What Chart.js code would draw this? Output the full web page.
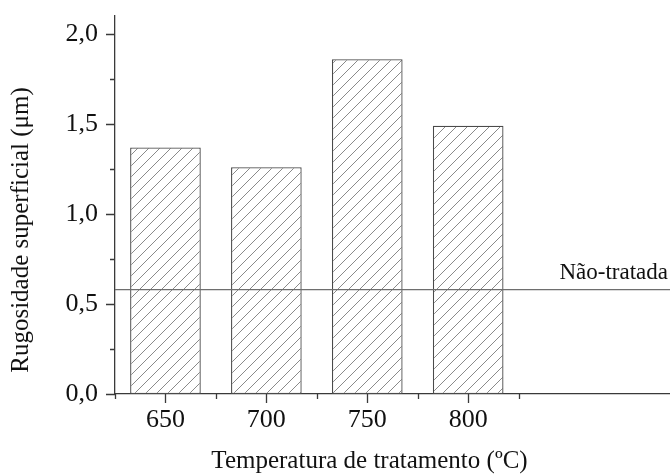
<!DOCTYPE html>
<html>
<head>
<meta charset="utf-8">
<script src="https://cdn.jsdelivr.net/npm/chart.js@4"></script>
<style>
  html, body { margin: 0; padding: 0; background: #fff; }
  #wrap { width: 670px; height: 475px; position: relative; }
</style>
</head>
<body>
<div id="wrap"><canvas id="grafico"></canvas></div>
<script>
// dados
const temperaturas = [650, 700, 750, 800];
const rugosidade = [1.37, 1.26, 1.86, 1.49];
const naoTratada = 0.58;
const yTicks = [0, 0.5, 1.0, 1.5, 2.0];
const yMinorTicks = [0.25, 0.75, 1.25, 1.75];
const xMinorTicks = [625, 675, 725, 775, 825];

const FONTE = '"Liberation Serif", "DejaVu Serif", serif';
const EIXO = '#3a3a3a';
const tituloX = 'Temperatura de tratamento (ºC)';
const tituloY = 'Rugosidade superficial (μm)';

// hachura diagonal das barras
function hachura() {
  const s = 11;
  const c = document.createElement('canvas');
  c.width = s; c.height = s;
  const g = c.getContext('2d');
  g.fillStyle = '#fff';
  g.fillRect(0, 0, s, s);
  g.strokeStyle = '#8a8a8a';
  g.lineWidth = 1;
  g.beginPath();
  g.moveTo(0, s); g.lineTo(s, 0);
  g.moveTo(-s / 2, s / 2); g.lineTo(s / 2, -s / 2);
  g.moveTo(s / 2, s * 1.5); g.lineTo(s * 1.5, s / 2);
  g.stroke();
  return g.createPattern(c, 'repeat');
}

// linha "Não-tratada", marcas menores dos eixos e titulos
const extras = {
  id: 'extras',
  afterDatasetsDraw(chart) {
    const { ctx, chartArea, scales } = chart;
    const x = scales.x, y = scales.y;
    ctx.save();
    const yy = y.getPixelForValue(naoTratada);
    ctx.strokeStyle = '#6e6e6e';
    ctx.lineWidth = 1.3;
    ctx.beginPath();
    ctx.moveTo(chartArea.left, yy);
    ctx.lineTo(chartArea.right, yy);
    ctx.stroke();
    ctx.fillStyle = '#111';
    ctx.font = '23px ' + FONTE;
    ctx.textAlign = 'right';
    ctx.textBaseline = 'alphabetic';
    ctx.fillText('Não-tratada', chartArea.right - 2, yy - 11);

    ctx.strokeStyle = EIXO;
    ctx.lineWidth = 1.3;
    ctx.beginPath();
    yTicks.forEach(v => {
      const p = Math.round(y.getPixelForValue(v)) + 0.5;
      ctx.moveTo(chartArea.left - 9, p); ctx.lineTo(chartArea.left, p);
    });
    yMinorTicks.forEach(v => {
      const p = Math.round(y.getPixelForValue(v)) + 0.5;
      ctx.moveTo(chartArea.left - 5, p); ctx.lineTo(chartArea.left, p);
    });
    temperaturas.forEach(v => {
      const p = Math.round(x.getPixelForValue(v)) + 0.5;
      ctx.moveTo(p, chartArea.bottom); ctx.lineTo(p, chartArea.bottom + 9);
    });
    xMinorTicks.forEach(v => {
      const p = Math.round(x.getPixelForValue(v)) + 0.5;
      ctx.moveTo(p, chartArea.bottom); ctx.lineTo(p, chartArea.bottom + 5);
    });
    ctx.stroke();

    // titulos (deslocados do centro, como no original)
    ctx.font = '25px ' + FONTE;
    ctx.textAlign = 'center';
    ctx.textBaseline = 'middle';
    ctx.fillText(tituloX, (chartArea.left + chartArea.right) / 2 - 23, 461);
    ctx.translate(21, (chartArea.top + chartArea.bottom) / 2 + 25);
    ctx.rotate(-Math.PI / 2);
    ctx.fillText(tituloY, 0, 0);
    ctx.restore();
  }
};

new Chart(document.getElementById('grafico'), {
  type: 'bar',
  data: {
    datasets: [{
      data: temperaturas.map((t, i) => ({ x: t, y: rugosidade[i] })),
      backgroundColor: hachura(),
      borderColor: '#4a4a4a',
      borderWidth: 1.3,
      borderSkipped: false,
      barPercentage: 0.70,
      categoryPercentage: 1.0
    }]
  },
  options: {
    responsive: true,
    maintainAspectRatio: false,
    animation: false,
    layout: { padding: { top: 16, right: 0, bottom: 0, left: 0 } },
    plugins: { legend: { display: false }, tooltip: { enabled: false } },
    scales: {
      x: {
        type: 'linear',
        offset: false,
        min: 625,
        max: 900,
        afterBuildTicks: s => { s.ticks = temperaturas.map(v => ({ value: v })); },
        afterFit: s => { s.height = 81; s.paddingLeft = 0; s.paddingRight = 0; },
        grid: { display: false, drawTicks: false },
        border: { display: true, color: EIXO, width: 1.3 },
        ticks: {
          padding: 11,
          color: '#111',
          font: { family: FONTE, size: 26 },
          callback: v => String(v)
        },
        title: { display: false }
      },
      y: {
        min: 0,
        max: 2.1,
        afterBuildTicks: s => { s.ticks = yTicks.map(v => ({ value: v })); },
        afterFit: s => { s.width = 115; s.paddingTop = 0; s.paddingBottom = 0; },
        grid: { display: false, drawTicks: false },
        border: { display: true, color: EIXO, width: 1.3 },
        ticks: {
          padding: 17,
          color: '#111',
          font: { family: FONTE, size: 26 },
          callback: v => v.toFixed(1).replace('.', ',')
        },
        title: { display: false }
      }
    }
  },
  plugins: [extras]
});
</script>
</body>
</html>
